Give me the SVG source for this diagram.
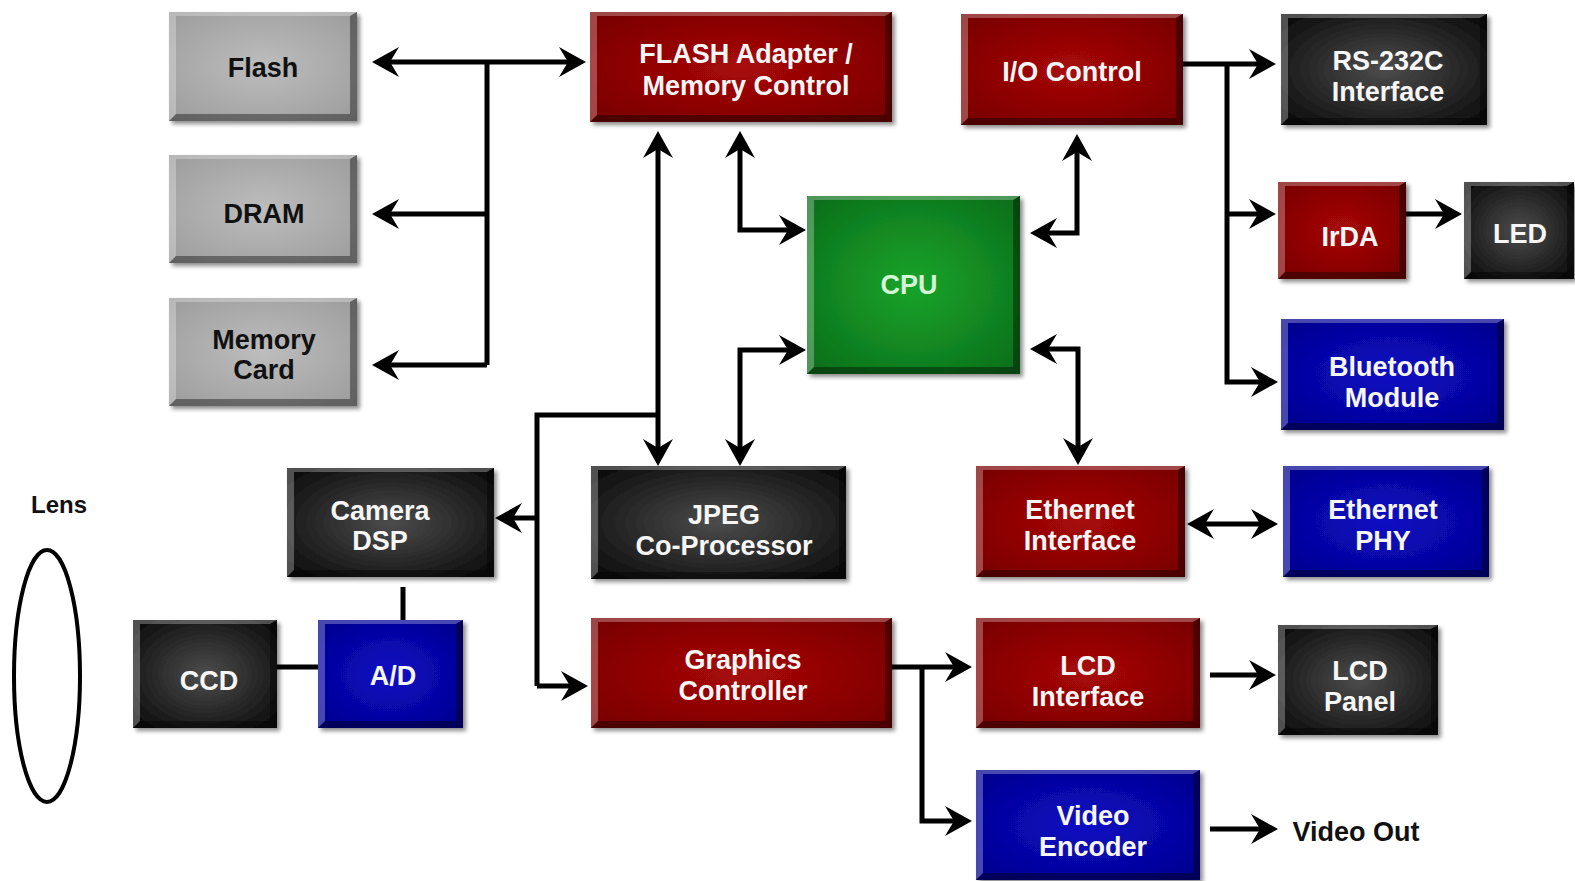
<svg xmlns="http://www.w3.org/2000/svg" width="1575" height="881" viewBox="0 0 1575 881">
<style>
.t{font-family:"Liberation Sans",Arial,sans-serif;font-weight:bold;font-size:27px;text-anchor:middle;fill:#f6f6f6}
.dk{fill:#111}
.cpu-t{fill:#d6f5d6}
.b{filter:url(#ds)}
.gray{fill:url(#gGray)}
.red{fill:url(#gRed)}
.blk{fill:url(#gBlk)}
.blu{fill:url(#gBlu)}
.grn{fill:url(#gGrn)}
.hi{fill:#fff;opacity:.28}
.lo{fill:#000;opacity:.38}
.c{fill:none;stroke:#000;stroke-width:5}
.a2{marker-start:url(#ah);marker-end:url(#ah)}
.a1{marker-end:url(#ah)}
</style>
<defs>
<radialGradient id="gGray" cx="0.5" cy="0.5" r="0.7"><stop offset="0" stop-color="#bdbdbd"/><stop offset="1" stop-color="#9c9c9c"/></radialGradient>
<radialGradient id="gRed" cx="0.5" cy="0.5" r="0.7"><stop offset="0" stop-color="#a80808"/><stop offset="1" stop-color="#760000"/></radialGradient>
<radialGradient id="gBlk" cx="0.5" cy="0.5" r="0.7"><stop offset="0" stop-color="#4c4c4c"/><stop offset="1" stop-color="#080808"/></radialGradient>
<radialGradient id="gBlu" cx="0.5" cy="0.5" r="0.7"><stop offset="0" stop-color="#0c0cc4"/><stop offset="1" stop-color="#00008c"/></radialGradient>
<radialGradient id="gGrn" cx="0.5" cy="0.5" r="0.7"><stop offset="0" stop-color="#18a42a"/><stop offset="1" stop-color="#0c6c1a"/></radialGradient>
<filter id="ds" x="-10%" y="-10%" width="130%" height="130%"><feDropShadow dx="3" dy="3" stdDeviation="2" flood-color="#000" flood-opacity="0.45"/></filter>
<marker id="ah" markerUnits="userSpaceOnUse" viewBox="-20 -16 32 32" markerWidth="32" markerHeight="32" refX="0" refY="0" orient="auto-start-reverse" overflow="visible"><path d="M10,0 L-17,-15 L-8,0 L-17,15 Z" fill="#000"/></marker>
</defs>
<rect width="1575" height="881" fill="#fff"/>

<g id="connectors">
<path class="c a2" d="M382,62H576"/>
<path class="c" d="M487,62V365"/>
<path class="c a1" d="M487,214H382"/>
<path class="c a1" d="M487,365H382"/>
<path class="c a2" d="M658,141V456"/>
<path class="c" d="M537,686V415H658"/>
<path class="c a1" d="M537,518H505"/>
<path class="c a1" d="M537,686H578"/>
<path class="c a2" d="M740,141V230H796"/>
<path class="c a2" d="M796,350H740V456"/>
<path class="c a2" d="M1040,233H1077V144"/>
<path class="c a2" d="M1040,349H1078V455"/>
<path class="c a1" d="M1183,64H1266"/>
<path class="c a1" d="M1227,64V382H1268"/>
<path class="c a1" d="M1227,214H1266"/>
<path class="c a1" d="M1406,214H1452"/>
<path class="c a2" d="M1197,524H1268"/>
<path class="c a1" d="M892,667H962"/>
<path class="c a1" d="M922,667V821H962"/>
<path class="c a1" d="M1210,675H1266"/>
<path class="c a1" d="M1210,829H1268"/>
<path class="c" d="M277,667H318"/>
<path class="c" d="M403,587V620"/>
</g>

<g id="flash"><rect class="b gray" x="169" y="12" width="188" height="109"/><path class="hi" d="M169,12H357L350,16H176V114L169,121Z"/><path class="lo" d="M357,12V121H169L176,114H350V16Z"/><text class="t dk" x="263" y="77">Flash</text></g>
<g id="dram"><rect class="b gray" x="169" y="155" width="188" height="108"/><path class="hi" d="M169,155H357L350,159H176V256L169,263Z"/><path class="lo" d="M357,155V263H169L176,256H350V159Z"/><text class="t dk" x="264" y="223">DRAM</text></g>
<g id="memory-card"><rect class="b gray" x="169" y="298" width="188" height="108"/><path class="hi" d="M169,298H357L350,302H176V399L169,406Z"/><path class="lo" d="M357,298V406H169L176,399H350V302Z"/><text class="t dk" x="264" y="349">Memory</text><text class="t dk" x="264" y="379">Card</text></g>
<g id="flash-adapter"><rect class="b red" x="590" y="12" width="302" height="110"/><path class="hi" d="M590,12H892L885,16H597V115L590,122Z"/><path class="lo" d="M892,12V122H590L597,115H885V16Z"/><text class="t" x="746" y="63">FLASH Adapter /</text><text class="t" x="746" y="95">Memory Control</text></g>
<g id="io-control"><rect class="b red" x="961" y="14" width="222" height="111"/><path class="hi" d="M961,14H1183L1176,18H968V118L961,125Z"/><path class="lo" d="M1183,14V125H961L968,118H1176V18Z"/><text class="t" x="1072" y="81">I/O Control</text></g>
<g id="rs232c"><rect class="b blk" x="1281" y="14" width="206" height="111"/><path class="hi" d="M1281,14H1487L1480,18H1288V118L1281,125Z"/><path class="lo" d="M1487,14V125H1281L1288,118H1480V18Z"/><text class="t" x="1388" y="70">RS-232C</text><text class="t" x="1388" y="101">Interface</text></g>
<g id="cpu"><rect class="b grn" x="807" y="196" width="213" height="178"/><path class="hi" d="M807,196H1020L1013,200H814V367L807,374Z"/><path class="lo" d="M1020,196V374H807L814,367H1013V200Z"/><text class="t cpu-t" x="909" y="294">CPU</text></g>
<g id="irda"><rect class="b red" x="1278" y="182" width="128" height="97"/><path class="hi" d="M1278,182H1406L1399,186H1285V272L1278,279Z"/><path class="lo" d="M1406,182V279H1278L1285,272H1399V186Z"/><text class="t" x="1350" y="246">IrDA</text></g>
<g id="led"><rect class="b blk" x="1464" y="182" width="110" height="97"/><path class="hi" d="M1464,182H1574L1567,186H1471V272L1464,279Z"/><path class="lo" d="M1574,182V279H1464L1471,272H1567V186Z"/><text class="t" x="1520" y="243">LED</text></g>
<g id="bluetooth"><rect class="b blu" x="1281" y="319" width="223" height="111"/><path class="hi" d="M1281,319H1504L1497,323H1288V423L1281,430Z"/><path class="lo" d="M1504,319V430H1281L1288,423H1497V323Z"/><text class="t" x="1392" y="376">Bluetooth</text><text class="t" x="1392" y="407">Module</text></g>
<g id="lens"><text class="t dk" style="font-size:24px" x="59" y="513">Lens</text><ellipse cx="47" cy="676" rx="33" ry="126" fill="none" stroke="#000" stroke-width="4"/></g>
<g id="camera-dsp"><rect class="b blk" x="287" y="468" width="207" height="109"/><path class="hi" d="M287,468H494L487,472H294V570L287,577Z"/><path class="lo" d="M494,468V577H287L294,570H487V472Z"/><text class="t" x="380" y="520">Camera</text><text class="t" x="380" y="550">DSP</text></g>
<g id="jpeg"><rect class="b blk" x="591" y="466" width="255" height="113"/><path class="hi" d="M591,466H846L839,470H598V572L591,579Z"/><path class="lo" d="M846,466V579H591L598,572H839V470Z"/><text class="t" x="724" y="524">JPEG</text><text class="t" x="724" y="555">Co-Processor</text></g>
<g id="ethernet-if"><rect class="b red" x="976" y="466" width="209" height="111"/><path class="hi" d="M976,466H1185L1178,470H983V570L976,577Z"/><path class="lo" d="M1185,466V577H976L983,570H1178V470Z"/><text class="t" x="1080" y="519">Ethernet</text><text class="t" x="1080" y="550">Interface</text></g>
<g id="ethernet-phy"><rect class="b blu" x="1283" y="466" width="206" height="111"/><path class="hi" d="M1283,466H1489L1482,470H1290V570L1283,577Z"/><path class="lo" d="M1489,466V577H1283L1290,570H1482V470Z"/><text class="t" x="1383" y="519">Ethernet</text><text class="t" x="1383" y="550">PHY</text></g>
<g id="ccd"><rect class="b blk" x="133" y="620" width="144" height="108"/><path class="hi" d="M133,620H277L270,624H140V721L133,728Z"/><path class="lo" d="M277,620V728H133L140,721H270V624Z"/><text class="t" x="209" y="690">CCD</text></g>
<g id="ad"><rect class="b blu" x="318" y="620" width="145" height="108"/><path class="hi" d="M318,620H463L456,624H325V721L318,728Z"/><path class="lo" d="M463,620V728H318L325,721H456V624Z"/><text class="t" x="393" y="685">A/D</text></g>
<g id="graphics"><rect class="b red" x="591" y="618" width="301" height="110"/><path class="hi" d="M591,618H892L885,622H598V721L591,728Z"/><path class="lo" d="M892,618V728H591L598,721H885V622Z"/><text class="t" x="743" y="669">Graphics</text><text class="t" x="743" y="700">Controller</text></g>
<g id="lcd-if"><rect class="b red" x="976" y="618" width="224" height="110"/><path class="hi" d="M976,618H1200L1193,622H983V721L976,728Z"/><path class="lo" d="M1200,618V728H976L983,721H1193V622Z"/><text class="t" x="1088" y="675">LCD</text><text class="t" x="1088" y="706">Interface</text></g>
<g id="lcd-panel"><rect class="b blk" x="1278" y="625" width="160" height="110"/><path class="hi" d="M1278,625H1438L1431,629H1285V728L1278,735Z"/><path class="lo" d="M1438,625V735H1278L1285,728H1431V629Z"/><text class="t" x="1360" y="680">LCD</text><text class="t" x="1360" y="711">Panel</text></g>
<g id="video-encoder"><rect class="b blu" x="976" y="770" width="224" height="110"/><path class="hi" d="M976,770H1200L1193,774H983V873L976,880Z"/><path class="lo" d="M1200,770V880H976L983,873H1193V774Z"/><text class="t" x="1093" y="825">Video</text><text class="t" x="1093" y="856">Encoder</text></g>
<g id="video-out"><text class="t dk" x="1356" y="841">Video Out</text></g>
</svg>
